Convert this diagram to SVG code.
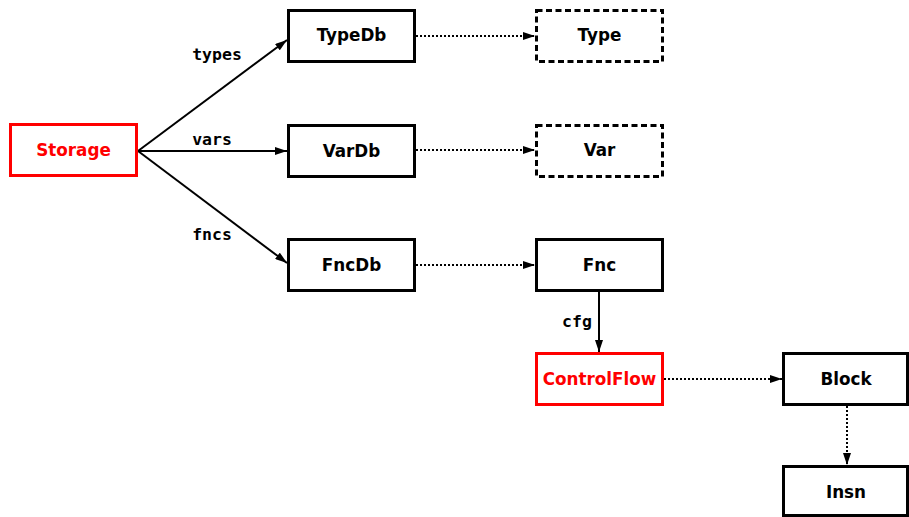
<svg xmlns="http://www.w3.org/2000/svg" width="909" height="517" viewBox="0 0 909 517">
<style>
.box{fill:#fff;stroke:#000;stroke-width:3}
.red{stroke:#f00}
.dash{stroke-dasharray:6,3.5}
.lbl{font-family:"DejaVu Sans",sans-serif;font-weight:bold;font-size:16.8px;text-anchor:middle;fill:#000}
.lbl.r{fill:#f00}
.el{font-family:"DejaVu Sans Mono",monospace;font-weight:bold;font-size:16.5px;text-anchor:middle;fill:#000}
.e{fill:none;stroke:#000;stroke-width:2}
.d{fill:none;stroke:#000;stroke-width:2;stroke-dasharray:2,2}
</style>
<defs>
<marker id="ah" markerWidth="12" markerHeight="8" refX="12" refY="4" orient="auto" markerUnits="userSpaceOnUse">
<path d="M0,0 L12,4 L0,8 Z" fill="#000"/>
</marker>
</defs>
<g id="connectors">
<line class="e" x1="138" y1="151" x2="287" y2="40" marker-end="url(#ah)"/>
<line class="e" x1="138" y1="151" x2="287" y2="151" marker-end="url(#ah)"/>
<line class="e" x1="138" y1="151" x2="287" y2="263" marker-end="url(#ah)"/>
<line class="d" x1="416" y1="36" x2="535" y2="36" marker-end="url(#ah)"/>
<line class="d" x1="416" y1="150" x2="535" y2="150" marker-end="url(#ah)"/>
<line class="d" x1="416" y1="265" x2="535" y2="265" marker-end="url(#ah)"/>
<line class="e" x1="599" y1="291" x2="599" y2="352" marker-end="url(#ah)"/>
<line class="d" x1="664" y1="379" x2="782" y2="379" marker-end="url(#ah)"/>
<line class="d" x1="847" y1="406" x2="847" y2="465" marker-end="url(#ah)"/>
<text class="el" x="217" y="60">types</text>
<text class="el" x="212" y="145">vars</text>
<text class="el" x="212" y="240">fncs</text>
<text class="el" x="577" y="327">cfg</text>
</g>
<g id="Storage"><rect class="box red" x="10.5" y="124.5" width="126" height="51"/><text class="lbl r" x="73.5" y="156">Storage</text></g>
<g id="TypeDb"><rect class="box" x="288.5" y="10.5" width="126" height="51"/><text class="lbl" x="351.5" y="41">TypeDb</text></g>
<g id="VarDb"><rect class="box" x="288.5" y="125.5" width="126" height="51"/><text class="lbl" x="351.5" y="157">VarDb</text></g>
<g id="FncDb"><rect class="box" x="288.5" y="239.5" width="126" height="51"/><text class="lbl" x="351.5" y="271">FncDb</text></g>
<g id="Type"><rect class="box dash" x="536.5" y="10.5" width="126" height="51"/><text class="lbl" x="599.5" y="41">Type</text></g>
<g id="Var"><rect class="box dash" x="536.5" y="125.5" width="126" height="51"/><text class="lbl" x="599.5" y="156">Var</text></g>
<g id="Fnc"><rect class="box" x="536.5" y="239.5" width="126" height="51"/><text class="lbl" x="599.5" y="271">Fnc</text></g>
<g id="ControlFlow"><rect class="box red" x="536.5" y="353.5" width="126" height="51"/><text class="lbl r" x="599.5" y="385">ControlFlow</text></g>
<g id="Block"><rect class="box" x="783.5" y="353.5" width="124" height="51"/><text class="lbl" x="846" y="385">Block</text></g>
<g id="Insn"><rect class="box" x="783.5" y="466.5" width="124" height="49"/><text class="lbl" x="846" y="498">Insn</text></g>
</svg>
